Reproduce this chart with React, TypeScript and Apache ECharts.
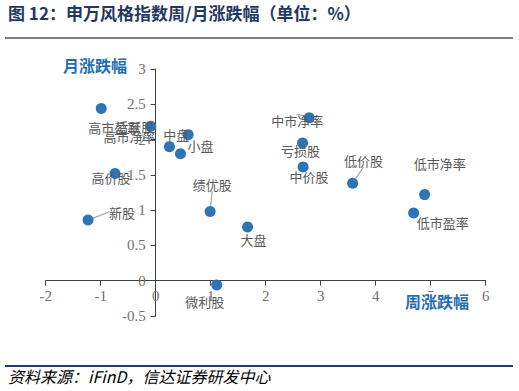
import React, { useEffect, useRef } from "react";
import * as echarts from "echarts";

const names = ["高市盈率", "活跃股", "高市净率", "中盘", "小盘", "高价股", "新股", "绩优股", "大盘", "微利股", "中市净率", "亏损股", "中价股", "低价股", "低市净率", "低市盈率"];
const weekly = [-0.99, -0.09, 0.25, 0.59, 0.45, -0.74, -1.23, 0.99, 1.67, 1.11, 2.79, 2.67, 2.68, 3.58, 4.89, 4.69];
const monthly = [2.44, 2.19, 1.9, 2.07, 1.8, 1.52, 0.86, 0.98, 0.76, -0.06, 2.31, 1.95, 1.61, 1.38, 1.22, 0.96];

const xTicks = { min: -2, max: 6, step: 1 };
const yTicks = { min: -0.5, max: 3, step: 0.5 };

// label displacement (px) from each point, by name
const labelShift: Record<string, [number, number]> = {
  高市盈率: [13, 19],
  活跃股: [-16, 0],
  高市净率: [-40, -10],
  中盘: [-12, 0],
  小盘: [20, -8],
  高价股: [-4, 4],
  新股: [34, -8],
  绩优股: [2, -27],
  大盘: [6, 12],
  微利股: [-12, 17],
  中市净率: [-12, 3],
  亏损股: [-2, 7],
  中价股: [6, 9],
  低价股: [11, -23],
  低市净率: [15, -31],
  低市盈率: [29, 10],
};
const withLine = ["新股", "绩优股", "中市净率", "低价股"];

export default function App() {
  const ref = useRef<HTMLDivElement>(null);
  useEffect(() => {
    if (!ref.current) return;
    const chart = echarts.init(ref.current, undefined, { renderer: "svg" });
    const cjk = "'Noto Sans CJK SC', sans-serif";
    const num = "'Liberation Serif', 'DejaVu Serif', serif";
    const data = names.map((n, i) => ({
      name: n,
      value: [weekly[i], monthly[i]],
      labelLine: { show: withLine.includes(n) },
    }));
    const W = 519 - 45.7 - 33.3;
    const H = 391 - 69 - 75;
    const xZeroOffset = -((0 - xTicks.min) / (xTicks.max - xTicks.min)) * W;
    const yZeroOffset = -((0 - yTicks.min) / (yTicks.max - yTicks.min)) * H;
    chart.setOption({
      animation: false,
      grid: { left: 45.7, right: 33.3, top: 69, bottom: 75 },
      xAxis: {
        type: "value",
        min: xTicks.min,
        max: xTicks.max,
        interval: xTicks.step,
        offset: yZeroOffset,
        splitLine: { show: false },
        axisLine: { onZero: false, lineStyle: { color: "#404040", width: 1 } },
        axisTick: { show: true, inside: false, length: 5, lineStyle: { color: "#404040" } },
        axisLabel: { color: "#707070", fontFamily: num, fontSize: 15, margin: 8, showMinLabel: true, showMaxLabel: true },
      },
      yAxis: {
        type: "value",
        min: yTicks.min,
        max: yTicks.max,
        interval: yTicks.step,
        offset: xZeroOffset,
        splitLine: { show: false },
        axisLine: { show: true, onZero: false, lineStyle: { color: "#404040", width: 1 } },
        axisTick: { show: true, inside: false, length: 5, lineStyle: { color: "#404040" } },
        axisLabel: { color: "#707070", fontFamily: num, fontSize: 15, margin: 10, showMinLabel: true, showMaxLabel: true },
      },
      series: [
        {
          type: "scatter",
          data,
          symbolSize: 11,
          itemStyle: { color: "#2E75B6", opacity: 1 },
          z: 3,
          label: {
            show: true,
            position: "inside",
            formatter: "{b}",
            color: "#595959",
            fontFamily: cjk,
            fontSize: 13,
          },
          labelLine: { show: true, lineStyle: { color: "#a6a6a6", width: 1.2 } },
          labelLayout: (p: any) => {
            const s = labelShift[names[p.dataIndex]] || [0, 0];
            return { dx: s[0], dy: s[1] };
          },
        },
      ],
      graphic: [
        {
          type: "text",
          left: 8,
          top: 4,
          style: { text: "图 12：申万风格指数周/月涨跌幅（单位：%）", fill: "#1F3864", font: `bold 17px ${cjk}` },
        },
        { type: "line", shape: { x1: 5, y1: 38, x2: 513, y2: 38 }, style: { stroke: "#000", lineWidth: 1 } },
        { type: "line", shape: { x1: 5, y1: 366, x2: 513, y2: 366 }, style: { stroke: "#1F3A6E", lineWidth: 2 } },
        {
          type: "text",
          left: 8,
          top: 368,
          style: { text: "资料来源：iFinD，信达证券研发中心", fill: "#000", font: `italic 16px ${cjk}` },
        },
        {
          type: "text",
          x: 95,
          y: 65,
          z: 10,
          style: { text: "月涨跌幅", fill: "#1F6FB5", font: `bold 16px ${cjk}`, align: "center", verticalAlign: "middle" },
        },
        {
          type: "text",
          x: 437,
          y: 301,
          z: 10,
          style: {
            text: "周涨跌幅",
            fill: "#1F6FB5",
            font: `bold 16px ${cjk}`,
            align: "center",
            verticalAlign: "middle",
            backgroundColor: "#fff",
            padding: [1, 2],
          },
        },
      ],
    });
    return () => chart.dispose();
  }, []);
  return <div ref={ref} style={{ position: "absolute", left: 0, top: 0, width: 519, height: 391 }} />;
}
